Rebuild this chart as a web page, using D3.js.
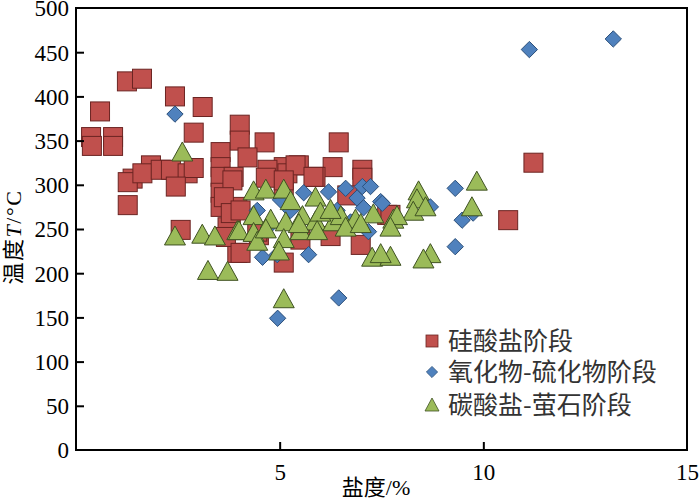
<!DOCTYPE html>
<html>
<head>
<meta charset="utf-8">
<script src="https://cdn.jsdelivr.net/npm/d3@7"></script>
<style>
  html, body { margin: 0; padding: 0; background: #fff; }
  svg { display: block; }
</style>
</head>
<body>
<svg id="chart" width="700" height="500"></svg>
<script>
// ---- Data (salinity %, temperature °C) ----
const seriesNames = ["硅酸盐阶段", "氧化物-硫化物阶段", "碳酸盐-萤石阶段"];

const silicateSalinity = [0.37,0.39,0.59,0.91,0.91,1.25,1.62,2.43,3.11,2.89,1.84,1.39,1.27,1.63,2.08,2.33,2.74,2.89,2.45,1.27,2.57,3.55,3.55,3.55,3.55,3.55,3.72,3.87,3.96,3.96,3.68,4.02,4.02,4.63,4.21,6.45,5.10,5.47,6.30,5.88,7.03,7.03,4.70,5.19,3.84,3.63,5.10,6.66,7.64,4.04,5.10,11.23,10.61,7.72,5.39,5.83,4.66,3.80,4.04,5.10,4.49,5.51,6.25,6.99,4.45];
const silicateTemp     = [354,344,383,354,344,417,420,400,388,359,322,307,303,313,317,317,313,319,298,277,249,337,320,309,291,275,252,309,275,223,241,368,350,348,331,348,320,322,320,309,317,308,317,313,305,286,298,288,266,223,212,325,260,266,322,309,308,268,271,305,243,238,242,232,247];

const oxideSalinity = [2.43,11.13,13.19,4.95,6.45,5.59,6.20,6.62,7.03,6.90,7.48,7.06,4.58,4.94,5.71,7.18,4.45,5.02,6.41,9.31,9.48,9.75,9.31,8.70,7.52,6.74,4.78,5.27,7.23];
const oxideTemp     = [380,453,465,149,172,291,292,296,298,285,281,274,218,221,221,247,271,283,271,296,260,268,230,275,279,258,255,271,298];

const carbonateSalinity = [2.61,2.43,3.10,3.41,3.24,3.72,3.96,4.36,4.66,5.10,5.88,5.27,4.36,4.78,5.15,5.56,5.88,6.32,6.00,6.50,6.86,7.30,7.79,4.00,4.36,5.10,5.51,5.92,4.45,4.98,7.27,7.72,5.10,9.84,9.72,8.41,8.37,8.28,8.58,7.88,7.72,8.70,8.53,7.48,6.62,6.99,6.25,5.47,4.66];
const carbonateTemp     = [336,241,243,241,202,201,247,292,294,294,285,281,264,260,257,264,258,257,268,264,260,266,260,247,245,238,247,247,235,224,217,218,170,303,274,292,283,269,274,264,251,221,215,221,251,255,271,255,249];

const xTicks = [5, 10, 15];
const yTicks = [0, 50, 100, 150, 200, 250, 300, 350, 400, 450, 500];

// ---- Layout ----
const SERIF = "Liberation Serif";
const CJK = "Noto Sans CJK SC";
const svg = d3.select("#chart");
const mLeft = 76, mRight = 687, mTop = 8, mBottom = 450;
const x = d3.scaleLinear().domain([0, 15]).range([mLeft, mRight]);
const y = d3.scaleLinear().domain([0, 500]).range([mBottom, mTop]);

const colors = {
  sq: { fill: "#c0504d", stroke: "#6b2422" },
  di: { fill: "#4f81bd", stroke: "#2b4f7a" },
  tr: { fill: "#9bbb59", stroke: "#3f5222" }
};

// frame
svg.append("rect")
  .attr("x", mLeft).attr("y", mTop)
  .attr("width", mRight - mLeft).attr("height", mBottom - mTop)
  .attr("fill", "none").attr("stroke", "#000").attr("stroke-width", 2);

// markers
const gPts = svg.append("g");
const sqSize = 19;
const silicate = silicateSalinity.map((s, i) => ({ s, t: silicateTemp[i] }));
const oxide = oxideSalinity.map((s, i) => ({ s, t: oxideTemp[i] }));
const carbonate = carbonateSalinity.map((s, i) => ({ s, t: carbonateTemp[i] }));

gPts.selectAll("rect.sq").data(silicate).join("rect")
  .attr("class", "sq")
  .attr("x", d => x(d.s) - sqSize / 2)
  .attr("y", d => y(d.t) - sqSize / 2)
  .attr("width", sqSize).attr("height", sqSize)
  .attr("fill", colors.sq.fill).attr("stroke", colors.sq.stroke).attr("stroke-width", 1);

const diamond = d3.symbol().type(d3.symbolDiamond2).size(170);
gPts.selectAll("path.di").data(oxide).join("path")
  .attr("class", "di")
  .attr("d", diamond)
  .attr("transform", d => `translate(${x(d.s)},${y(d.t)})`)
  .attr("fill", colors.di.fill).attr("stroke", colors.di.stroke).attr("stroke-width", 1);

const tri = "M0,-11 L10.5,8 L-10.5,8 Z";
gPts.selectAll("path.tr").data(carbonate).join("path")
  .attr("class", "tr")
  .attr("d", tri)
  .attr("transform", d => `translate(${x(d.s)},${y(d.t)})`)
  .attr("fill", colors.tr.fill).attr("stroke", colors.tr.stroke).attr("stroke-width", 1);

// axes
const xAxis = d3.axisBottom(x).tickValues(xTicks).tickSize(-8).tickPadding(14).tickSizeOuter(0);
const gx = svg.append("g").attr("transform", `translate(0,${mBottom})`).call(xAxis)
  .attr("font-family", SERIF).attr("font-size", 23);
gx.select(".domain").remove();
gx.selectAll(".tick line").attr("stroke", "#000").attr("stroke-width", 2)
  .filter(d => d === 15).remove();
gx.selectAll("text").attr("font-family", SERIF)
  .attr("font-size", 23).attr("fill", "#000");

const yAxis = d3.axisLeft(y).tickValues(yTicks).tickSize(-8).tickPadding(7).tickSizeOuter(0);
const gy = svg.append("g").attr("transform", `translate(${mLeft},0)`).call(yAxis)
  .attr("font-family", SERIF).attr("font-size", 23);
gy.select(".domain").remove();
gy.selectAll(".tick line").attr("stroke", "#000").attr("stroke-width", 2)
  .filter(d => d === 0 || d === 500).remove();
gy.selectAll("text").attr("font-family", SERIF)
  .attr("font-size", 23).attr("fill", "#000").attr("dy", "0.34em");

// axis titles
const xt = svg.append("text")
  .attr("x", 376).attr("y", 495)
  .attr("text-anchor", "middle").attr("font-size", 22).attr("fill", "#000");
xt.append("tspan").attr("font-family", CJK).text("盐度");
xt.append("tspan").attr("font-family", SERIF).text("/%");

const yt = svg.append("text")
  .attr("transform", `translate(21,237) rotate(-90)`)
  .attr("text-anchor", "middle").attr("font-size", 22).attr("fill", "#000")
  .attr("letter-spacing", 1.5);
yt.append("tspan").attr("font-family", CJK).text("温度");
yt.append("tspan").attr("font-family", SERIF).attr("font-style", "italic").text("T");
yt.append("tspan").attr("font-family", SERIF).text("/°C");

// legend
const legendY = [341, 372, 405];
const lg = svg.append("g");
const lx = 432;
lg.append("rect").attr("x", lx - 6).attr("y", legendY[0] - 6).attr("width", 12).attr("height", 12)
  .attr("fill", colors.sq.fill).attr("stroke", colors.sq.stroke).attr("stroke-width", 0.8);
lg.append("path").attr("d", d3.symbol().type(d3.symbolDiamond2).size(80))
  .attr("transform", `translate(${lx},${legendY[1]})`)
  .attr("fill", colors.di.fill).attr("stroke", colors.di.stroke).attr("stroke-width", 0.8);
lg.append("path").attr("d", "M0,-7 L7,6 L-7,6 Z")
  .attr("transform", `translate(${lx},${legendY[2]})`)
  .attr("fill", colors.tr.fill).attr("stroke", colors.tr.stroke).attr("stroke-width", 0.8);
lg.selectAll("text.lt").data(seriesNames).join("text")
  .attr("class", "lt")
  .attr("x", 448).attr("y", (d, i) => legendY[i])
  .attr("dy", "0.36em")
  .attr("font-family", CJK)
  .attr("font-size", 25).attr("fill", "#333")
  .text(d => d);
</script>
</body>
</html>
